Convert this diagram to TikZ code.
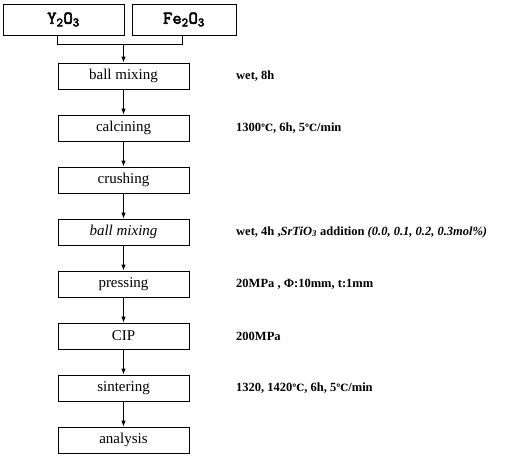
\documentclass[tikz,border=0pt]{standalone}
\usepackage{fontspec}
\setmainfont{Liberation Serif}
\newfontfamily\degfam{DejaVu Serif}
\newfontfamily\monob{Latin Modern Mono}[FakeBold=3]
\usetikzlibrary{arrows.meta}
\newcommand{\degC}{{\degfam\bfseries\fontsize{10}{12}\selectfont ℃}}
\begin{document}
\begin{tikzpicture}[x=1pt,y=-1pt,
  procbox/.style={draw,line width=0.8pt,minimum width=131pt,minimum height=26pt,inner sep=0pt,font=\fontsize{15}{17}\selectfont},
  rawbox/.style={draw,line width=0.8pt,minimum height=31pt,inner sep=0pt,font=\monob\fontsize{18}{20}\selectfont},
  note/.style={anchor=west,inner sep=0pt,font=\bfseries\fontsize{12.5}{14}\selectfont},
  flow/.style={line width=0.8pt,-{Latex[length=6pt,width=4.5pt]}},
  link/.style={line width=0.8pt}]
\useasboundingbox (0,0) rectangle (517,461);
\node[rawbox,minimum width=121pt] (y) at (63.5,19.5) {Y\textsubscript{2}O\textsubscript{3}};
\node[rawbox,minimum width=104pt] (f) at (184,19.5) {Fe\textsubscript{2}O\textsubscript{3}};
\coordinate (jy) at (57,44);
\coordinate (jf) at (182,44);
\coordinate (j) at (123.5,44);
\node[procbox] (b1) at (123.5,76) {ball mixing};
\node[procbox] (b2) at (123.5,128) {calcining};
\node[procbox] (b3) at (123.5,180) {crushing};
\node[procbox] (b4) at (123.5,232) {\itshape ball mixing};
\node[procbox] (b5) at (123.5,284) {pressing};
\node[procbox] (b6) at (123.5,336) {CIP};
\node[procbox] (b7) at (123.5,388) {sintering};
\node[procbox] (b8) at (123.5,440) {analysis};
\draw[link] (jy |- y.south) -- (jy) -- (jf) -- (jf |- f.south);
\draw[flow] (j) -- (b1);
\draw[flow] (b1) -- (b2);
\draw[flow] (b2) -- (b3);
\draw[flow] (b3) -- (b4);
\draw[flow] (b4) -- (b5);
\draw[flow] (b5) -- (b6);
\draw[flow] (b6) -- (b7);
\draw[flow] (b7) -- (b8);
\node[note] (n1) at (236,76) {wet, 8h};
\node[note] (n2) at (236,128) {1300\degC, 6h, 5\degC/min};
\node[note] (n4) at (236,232) {wet, 4h ,\textit{SrTiO\textsubscript{3}} addition \textit{(0.0, 0.1, 0.2, 0.3mol\%)}};
\node[note] (n5) at (236,284) {20MPa , Φ:10mm, t:1mm};
\node[note] (n6) at (236,336) {200MPa};
\node[note] (n7) at (236,388) {1320, 1420\degC, 6h, 5\degC/min};
\end{tikzpicture}
\end{document}
